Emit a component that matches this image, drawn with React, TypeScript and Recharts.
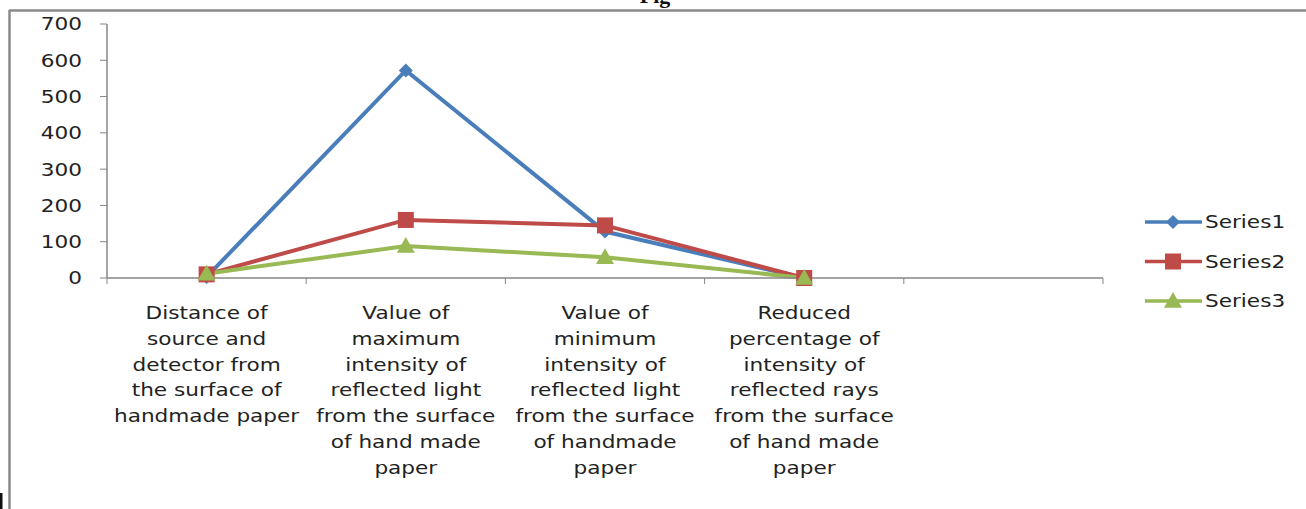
import { LineChart, Line, XAxis, YAxis, Legend } from 'recharts';

// category labels, already split into lines as in the picture (last slot is empty)
const categories: string[][] = [
  ['Distance of', 'source and', 'detector from', 'the surface of', 'handmade paper'],
  ['Value of', 'maximum', 'intensity of', 'reflected light', 'from the surface', 'of hand made', 'paper'],
  ['Value of', 'minimum', 'intensity of', 'reflected light', 'from the surface', 'of handmade', 'paper'],
  ['Reduced', 'percentage of', 'intensity of', 'reflected rays', 'from the surface', 'of hand made', 'paper'],
  [],
];

const series1 = [3, 572, 128, 0, null];
const series2 = [10, 160, 145, 0, null];
const series3 = [12, 88, 57, 0, null];

const yTicks = [0, 100, 200, 300, 400, 500, 600, 700];

const COLORS = { s1: '#4A7EBB', s2: '#BE4B48', s3: '#98B954' };
const AXIS = '#868686';
const FONT = '"DejaVu Sans", sans-serif';

const data = categories.map((lines, i) => ({
  pos: i + 0.5,
  s1: series1[i],
  s2: series2[i],
  s3: series3[i],
}));

const boundaryTicks = categories.map((_, i) => i).concat(categories.length);
const centerTicks = data.map((d) => d.pos);

// marker shapes, excel style
function Marker({ kind, cx, cy, color }: { kind: string; cx: number; cy: number; color: string }) {
  if (kind === 's1') {
    const r = 7;
    return <polygon points={`${cx},${cy - r} ${cx + r},${cy} ${cx},${cy + r} ${cx - r},${cy}`} fill={color} />;
  }
  if (kind === 's2') {
    const r = 8;
    return <rect x={cx - r} y={cy - r} width={r * 2} height={r * 2} fill={color} />;
  }
  const r = 9;
  return <polygon points={`${cx},${cy - r} ${cx + r},${cy + r * 0.75} ${cx - r},${cy + r * 0.75}`} fill={color} />;
}

const makeDot = (kind: string, color: string) => (props: any) => {
  const { cx, cy, index } = props;
  if (cx == null || cy == null || props.value == null) return <g key={`${kind}-${index}`} />;
  return <Marker key={`${kind}-${index}`} kind={kind} cx={cx} cy={cy} color={color} />;
};

const CategoryTick = (props: any) => {
  const { x, y, payload } = props;
  const lines = categories[Math.floor(payload.value)] || [];
  return (
    <g transform={`translate(${x},${y})`}>
      <text transform="scale(1.2,1)" textAnchor="middle" fontSize={18} fontFamily={FONT} fill="#222">
        {lines.map((l, j) => (
          <tspan key={j} x={0} dy={j === 0 ? 33 : 25.8}>
            {l}
          </tspan>
        ))}
      </text>
    </g>
  );
};

const ValueTick = (props: any) => {
  const { x, y, payload } = props;
  return (
    <g transform={`translate(${x},${y})`}>
      <text transform="scale(1.2,1)" textAnchor="end" dy="0.36em" fontSize={18} fontFamily={FONT} fill="#222">
        {payload.value}
      </text>
    </g>
  );
};

const LegendBox = (props: any) => {
  const items = props.payload || [];
  return (
    <svg width={170} height={120}>
      {items.map((it: any, i: number) => {
        const cy = 17 + i * 39.5;
        return (
          <g key={it.value}>
            <line x1={5} x2={62} y1={cy} y2={cy} stroke={it.color} strokeWidth={3.5} />
            <Marker kind={it.dataKey} cx={33} cy={cy} color={it.color} />
            <text transform={`translate(65,${cy}) scale(1.2,1)`} dy="0.36em" fontSize={18} fontFamily={FONT} fill="#222">
              {it.value}
            </text>
          </g>
        );
      })}
    </svg>
  );
};

export default function App() {
  return (
    <div style={{ position: 'absolute', left: 0, top: 0, width: 1306, height: 509, background: '#fff', overflow: 'hidden' }}>
      <LineChart width={1306} height={509} data={data} margin={{ top: 24, right: 203, bottom: 0, left: 0 }}>
        <XAxis
          xAxisId="b"
          type="number"
          dataKey="pos"
          domain={[0, categories.length]}
          ticks={centerTicks}
          tick={<CategoryTick />}
          tickLine={false}
          axisLine={false}
          tickSize={0}
          tickMargin={0}
          height={223}
          interval={0}
        />
        <XAxis
          xAxisId="a"
          type="number"
          dataKey="pos"
          domain={[0, categories.length]}
          ticks={boundaryTicks}
          tickFormatter={() => ''}
          height={8}
          tickSize={6}
          stroke={AXIS}
          tickLine={{ stroke: AXIS }}
          axisLine={{ stroke: AXIS, strokeWidth: 1.5 }}
        />
        <YAxis
          type="number"
          domain={[0, 700]}
          ticks={yTicks}
          width={107}
          tickSize={7}
          tickMargin={18}
          tick={<ValueTick />}
          stroke={AXIS}
          tickLine={{ stroke: AXIS }}
          axisLine={{ stroke: AXIS, strokeWidth: 1.5 }}
          interval={0}
        />
        <Legend
          layout="vertical"
          align="center"
          verticalAlign="middle"
          content={<LegendBox />}
          wrapperStyle={{ position: 'absolute', left: 1140, top: 205, width: 170, height: 120 }}
        />
        <Line xAxisId="a" dataKey="s1" name="Series1" stroke={COLORS.s1} strokeWidth={4} dot={makeDot('s1', COLORS.s1)} isAnimationActive={false} />
        <Line xAxisId="a" dataKey="s2" name="Series2" stroke={COLORS.s2} strokeWidth={4} dot={makeDot('s2', COLORS.s2)} isAnimationActive={false} />
        <Line xAxisId="a" dataKey="s3" name="Series3" stroke={COLORS.s3} strokeWidth={4} dot={makeDot('s3', COLORS.s3)} isAnimationActive={false} />
      </LineChart>
      {/* outer frame and the clipped caption above it */}
      <svg width={1306} height={509} style={{ position: 'absolute', left: 0, top: 0, pointerEvents: 'none' }}>
        <line x1={9} x2={1306} y1={10.5} y2={10.5} stroke="#8a8a8a" strokeWidth={2.5} />
        <line x1={9.5} x2={9.5} y1={10} y2={509} stroke="#8a8a8a" strokeWidth={2.5} />
        <rect x={0} y={493} width={2.5} height={16} fill="#111" />
        <text x={655} y={3} textAnchor="middle" fontSize={22} fontWeight="bold" fontFamily='"Liberation Serif", serif' fill="#111">
          Fig
        </text>
      </svg>
    </div>
  );
}
